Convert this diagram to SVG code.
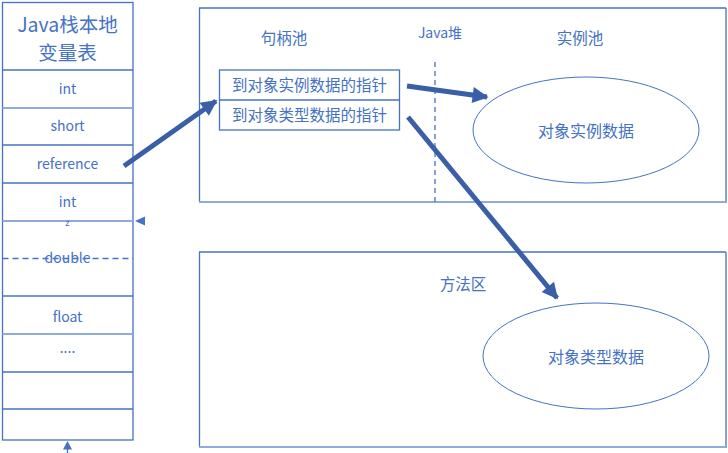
<svg xmlns="http://www.w3.org/2000/svg" width="728" height="453" viewBox="0 0 728 453">
<style>
.t{font-family:"Noto Sans CJK SC","Liberation Sans",sans-serif;fill:#4472C4;text-anchor:middle}
.b{fill:none;stroke:#4472C4;stroke-width:1.3}
.l{fill:none;stroke:#8FAADC;stroke-width:2}
.arr{stroke:#3A5EA8;stroke-width:5;fill:none}
</style>
<defs>
<marker id="ah" viewBox="0 0 10 10" refX="9" refY="5" markerWidth="4" markerHeight="3.2" orient="auto" markerUnits="strokeWidth">
<path d="M0,0 L10,5 L0,10 z" fill="#3A5EA8"/>
</marker>
</defs>
<rect width="728" height="453" fill="#ffffff"/>
<g id="stack">
<rect class="b" x="2.5" y="2.5" width="130.5" height="437.5"/>
<line class="b" x1="2.5" y1="70" x2="133" y2="70"/>
<line class="l" x1="2.5" y1="108" x2="133" y2="108"/>
<line class="b" x1="2.5" y1="145" x2="133" y2="145"/>
<line class="b" x1="2.5" y1="183" x2="133" y2="183"/>
<line class="l" x1="2.5" y1="221" x2="133" y2="221"/>
<line class="b" x1="2.5" y1="258.5" x2="133" y2="258.5" stroke-dasharray="6,4"/>
<line class="b" x1="2.5" y1="296" x2="133" y2="296"/>
<line class="l" x1="2.5" y1="334" x2="133" y2="334"/>
<line class="b" x1="2.5" y1="372" x2="133" y2="372"/>
<line class="b" x1="2.5" y1="409" x2="133" y2="409"/>
<text class="t" x="67.5" y="32" font-size="19.5">Java栈本地</text>
<text class="t" x="67.5" y="60" font-size="19.5">变量表</text>
<text class="t" x="67.5" y="94" font-size="14">int</text>
<text class="t" x="67.5" y="131" font-size="14">short</text>
<text class="t" x="67.5" y="169" font-size="14">reference</text>
<text class="t" x="67.5" y="207" font-size="14">int</text>
<text class="t" x="67.5" y="226" font-size="9">z</text>
<text class="t" x="67.5" y="263" font-size="14">double</text>
<text class="t" x="67.5" y="322" font-size="14">float</text>
<text class="t" x="67.5" y="353" font-size="14">....</text>
<path d="M135,221 L145,216.5 L145,225.5 z" fill="#4472C4"/>
<path d="M67.5,441 L63,449.5 L72,449.5 z" fill="#4472C4"/>
<line x1="67.5" y1="449" x2="67.5" y2="453" stroke="#4472C4" stroke-width="1.3"/>
</g>
<g id="heap">
<line class="b" x1="199" y1="8" x2="726" y2="8"/>
<line class="b" x1="199.5" y1="8" x2="199.5" y2="202"/>
<line class="b" x1="726" y1="8" x2="726" y2="202"/>
<line class="l" x1="199" y1="202" x2="727" y2="202"/>
<line class="b" x1="435" y1="62" x2="435" y2="202" stroke-dasharray="5,4" stroke-width="2" stroke="#6F8FCF"/>
<text class="t" x="284" y="44" font-size="15.5">句柄池</text>
<text class="t" x="440" y="38" font-size="14">Java堆</text>
<text class="t" x="580" y="44" font-size="15.5">实例池</text>
</g>
<g id="handles">
<rect class="b" x="219.5" y="70" width="180" height="60"/>
<line class="b" x1="219.5" y1="100" x2="399.5" y2="100"/>
<text class="t" x="309.5" y="90.5" font-size="15.5">到对象实例数据的指针</text>
<text class="t" x="309.5" y="120.5" font-size="15.5">到对象类型数据的指针</text>
</g>
<g id="instance">
<ellipse cx="586" cy="130" rx="113" ry="53" fill="none" stroke="#4472C4" stroke-width="1"/>
<text class="t" x="586" y="136.5" font-size="16">对象实例数据</text>
</g>
<g id="method">
<line class="b" x1="199" y1="252" x2="726" y2="252"/>
<line class="b" x1="199.5" y1="252" x2="199.5" y2="447"/>
<line class="b" x1="726" y1="252" x2="726" y2="447"/>
<line class="l" x1="199" y1="447" x2="727" y2="447"/>
<text class="t" x="463" y="290" font-size="15.5">方法区</text>
</g>
<g id="type">
<ellipse cx="596" cy="356" rx="113" ry="53" fill="none" stroke="#4472C4" stroke-width="1"/>
<text class="t" x="596" y="362.5" font-size="16">对象类型数据</text>
</g>
<g id="connectors">
<line class="arr" x1="124" y1="166" x2="216" y2="101" marker-end="url(#ah)"/>
<line class="arr" x1="407" y1="86" x2="487" y2="97" marker-end="url(#ah)"/>
<line class="arr" x1="408" y1="117" x2="557" y2="298" marker-end="url(#ah)"/>
</g>
</svg>
